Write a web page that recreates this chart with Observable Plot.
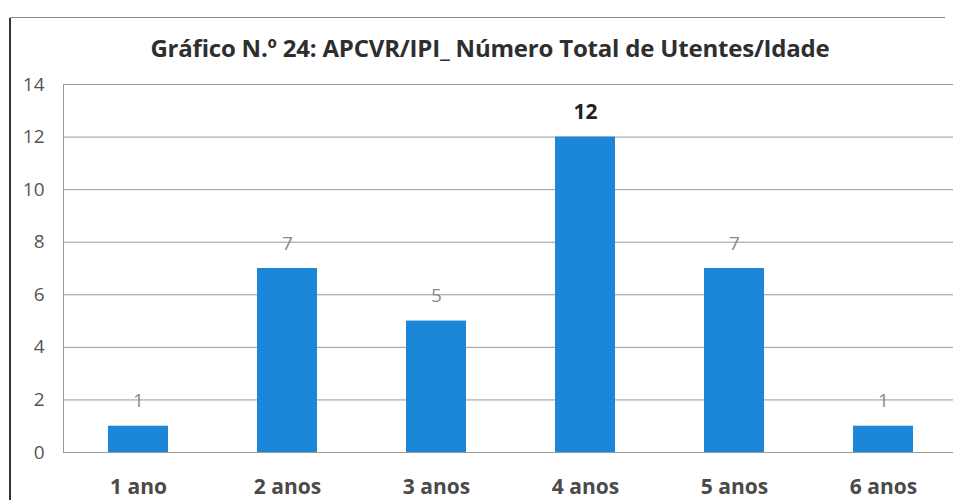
<!DOCTYPE html>
<html>
<head>
<meta charset="utf-8">
<script src="https://cdn.jsdelivr.net/npm/d3@7"></script>
<script src="https://cdn.jsdelivr.net/npm/@observablehq/plot@0.6"></script>
<style>
  html, body { margin: 0; padding: 0; background: #fff; }
  #wrap { position: relative; width: 953px; height: 500px; overflow: hidden; }
  #title { position: absolute; left: 0; top: 0; width: 953px; height: 70px; box-sizing: border-box;
    padding-top: 31px; text-align: center; padding-left: 27px;
    font-family: "Open Sans", sans-serif; font-weight: 700; font-size: 24px; color: #2e2e2e; letter-spacing: -0.2px; }
  #topline { position: absolute; left: 10px; top: 17px; width: 935px; height: 1px; background: #888; }
  #leftline { position: absolute; left: 9px; top: 18px; width: 2px; height: 482px; background: #333; }
  #chart { position: absolute; left: 0; top: 70px; }
</style>
</head>
<body>
<div id="wrap">
  <div id="topline"></div>
  <div id="leftline"></div>
  <div id="title">Gráfico N.º 24: APCVR/IPI_ Número Total de Utentes/Idade</div>
  <div id="chart"></div>
</div>
<script>
const categories = ["1 ano", "2 anos", "3 anos", "4 anos", "5 anos", "6 anos"];
const values = [1, 7, 5, 12, 7, 1];
const yTicks = [0, 2, 4, 6, 8, 10, 12, 14];

const data = categories.map((c, i) => ({ age: c, n: values[i] }));
const maxVal = d3.max(values);
const dataMax = data.filter(d => d.n === maxVal);
const dataRest = data.filter(d => d.n !== maxVal);

const chart = Plot.plot({
  width: 953,
  height: 430,
  marginLeft: 63,
  marginRight: 0,
  marginTop: 14,
  marginBottom: 48,
  style: { fontFamily: "Open Sans, sans-serif", background: "transparent", overflow: "visible" },
  x: { domain: categories, range: [63, 957], paddingInner: 0.6, paddingOuter: 0.3, label: null, axis: null },
  y: { domain: [0, 14], ticks: yTicks, label: null, axis: null },
  marks: [
    Plot.gridY(yTicks, { stroke: "#9a9a9a", strokeOpacity: 1, strokeWidth: 1 }),
    Plot.frame({ anchor: "left", stroke: "#9a9a9a" }),
    Plot.barY(data, { x: "age", y: "n", fill: "#1c87d9" }),
    Plot.axisY(yTicks, { tickSize: 0, tickPadding: 19, fontSize: 19, fill: "#555", label: null }),
    Plot.axisX(categories, { tickSize: 0, tickPadding: 27, fontSize: 21, fontWeight: 700, fill: "#4a4a4a", label: null }),
    Plot.text(dataRest, { x: "age", y: "n", text: d => String(d.n), dy: -25, fontSize: 19, fill: "#8a8a8a" }),
    Plot.text(dataMax, { x: "age", y: "n", text: d => String(d.n), dy: -25, fontSize: 21, fontWeight: 700, fill: "#222" })
  ]
});
document.getElementById("chart").appendChild(chart);
</script>
</body>
</html>
